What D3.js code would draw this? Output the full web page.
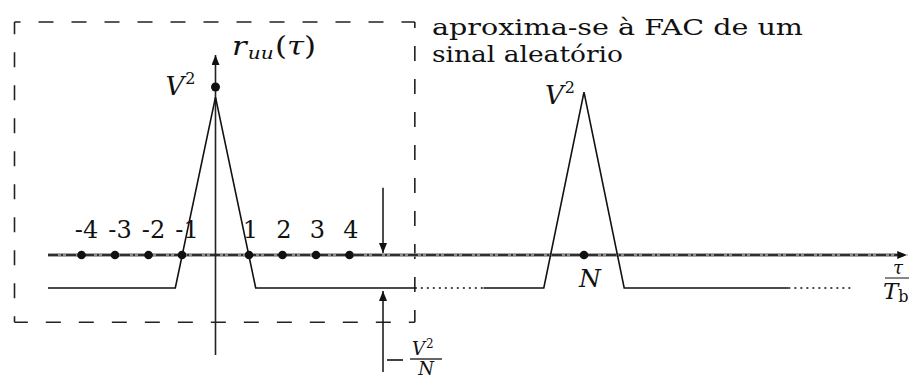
<!DOCTYPE html>
<html>
<head>
<meta charset="utf-8">
<script src="https://cdn.jsdelivr.net/npm/d3@7"></script>
<style>
  html, body { margin: 0; padding: 0; background: #fff; }
  svg { display: block; }
  svg text { font-family: "DejaVu Serif", "Liberation Serif", serif; }
  .it { font-style: italic; }
</style>
</head>
<body>
<svg id="chart" width="909" height="381" fill="#111"></svg>
<script>
// Autocorrelation of a periodic pseudo-random binary sequence (period N)
const N = 11;                       // period, in bit intervals
const tickValues = [-4, -3, -2, -1, 1, 2, 3, 4];
const tickLabels = ["-4", "-3", "-2", "-1", "1", "2", "3", "4"];
const peakValue = 1;                // V^2 marker on the vertical axis
const peakLeft = 0.94;              // apex of the triangle at tau = 0
const peakRight = 0.97;             // apex of the triangle at tau = N
const floorLevel = -0.196;          // -V^2/N
const halfBase = 1.2;               // half width of each triangle at the floor

// pieces of r_uu(tau), as [tau, value] points
const curveSolidA = [[-5, floorLevel], [-halfBase, floorLevel], [0, peakLeft], [halfBase, floorLevel], [5.95, floorLevel]];
const curveDottedA = [[5.95, floorLevel], [8, floorLevel]];
const curveSolidB = [[8, floorLevel], [N - halfBase, floorLevel], [N, peakRight], [N + halfBase, floorLevel], [17.1, floorLevel]];
const curveDottedB = [[17.1, floorLevel], [19, floorLevel]];

const svg = d3.select("#chart");
const x = d3.scaleLinear().domain([0, N]).range([215.5, 584]);
const y = d3.scaleLinear().domain([0, 1]).range([255, 87]);
const line = d3.line().x(d => x(d[0])).y(d => y(d[1]));

const ink = "#111";

// dashed frame around the region near tau = 0
const box = { x0: -6.0, x1: 5.95, y0: 1.387, y1: -0.4 };
const frame = svg.append("g").attr("stroke", "#222").attr("stroke-width", 1.6).attr("fill", "none");
[[box.x0, box.y0, box.x1, box.y0], [box.x1, box.y0, box.x1, box.y1],
 [box.x1, box.y1, box.x0, box.y1], [box.x0, box.y1, box.x0, box.y0]].forEach(s => {
  frame.append("line")
    .attr("x1", x(s[0])).attr("y1", y(s[1]))
    .attr("x2", x(s[2])).attr("y2", y(s[3]))
    .attr("stroke-dasharray", "15,18")
    .attr("stroke-dashoffset", 9);
});

// arrow heads
const defs = svg.append("defs");
defs.append("marker")
  .attr("id", "head")
  .attr("viewBox", "0 0 10 8")
  .attr("refX", 10).attr("refY", 4)
  .attr("markerWidth", 10).attr("markerHeight", 8)
  .attr("markerUnits", "userSpaceOnUse")
  .attr("orient", "auto")
  .append("path").attr("d", "M0,0 L10,4 L0,8 Z").attr("fill", ink);

// horizontal axis (tau / T_b)
const xAxisEnd = 20.65;
svg.append("line")
  .attr("x1", x(-5)).attr("x2", x(xAxisEnd) - 4).attr("y1", y(0)).attr("y2", y(0))
  .attr("stroke", "#8d8d8d").attr("stroke-width", 3.5);
svg.append("line")
  .attr("x1", x(-5)).attr("x2", x(xAxisEnd)).attr("y1", y(0)).attr("y2", y(0))
  .attr("stroke", ink).attr("stroke-width", 1.4)
  .attr("stroke-dasharray", "10,3,2,3")
  .attr("marker-end", "url(#head)");

// vertical axis r_uu(tau)
svg.append("line")
  .attr("x1", x(0)).attr("x2", x(0)).attr("y1", y(-0.595)).attr("y2", y(1.19))
  .attr("stroke", "#222").attr("stroke-width", 1.6)
  .attr("marker-end", "url(#head)");

// the autocorrelation curve
[curveSolidA, curveSolidB].forEach(seg => {
  svg.append("path").datum(seg).attr("d", line)
    .attr("fill", "none").attr("stroke", ink).attr("stroke-width", 1.6);
});
[curveDottedA, curveDottedB].forEach(seg => {
  svg.append("path").datum(seg).attr("d", line)
    .attr("fill", "none").attr("stroke", ink).attr("stroke-width", 1.5)
    .attr("stroke-dasharray", "2,4");
});

// sample points on the axis
svg.append("g").selectAll("circle")
  .data(tickValues.concat([N]))
  .join("circle")
  .attr("cx", d => x(d)).attr("cy", y(0)).attr("r", 4.3).attr("fill", ink);
svg.append("circle").attr("cx", x(0)).attr("cy", y(peakValue)).attr("r", 4.5).attr("fill", ink);

// tick labels
svg.append("g").selectAll("text")
  .data(tickValues)
  .join("text")
  .attr("x", d => x(d) + (d < 0 ? 5 : 1.5))
  .attr("y", 238)
  .attr("text-anchor", "middle")
  .attr("font-size", 24)
  .text((d, i) => tickLabels[i]);

// N under the second peak
svg.append("text").attr("class", "it")
  .attr("x", x(N) - 5).attr("y", 287).attr("font-size", 25).text("N");

// V^2 labels
function vSquared(px, py) {
  const t = svg.append("text").attr("x", px).attr("y", py).attr("font-size", 26);
  t.append("tspan").attr("class", "it").text("V");
  t.append("tspan").attr("font-size", 16).attr("dy", -11).attr("dx", 1).text("2");
}
vSquared(x(0) - 50, y(peakValue) + 8);
vSquared(x(N) - 39, y(peakRight) + 12);

// axis title r_uu(tau)
const rt = svg.append("text").attr("x", 232).attr("y", 55).attr("font-size", 26)
  .attr("textLength", 84).attr("lengthAdjust", "spacingAndGlyphs");
rt.append("tspan").attr("class", "it").text("r");
rt.append("tspan").attr("class", "it").attr("font-size", 17).attr("dy", 4).attr("dx", 1).text("uu");
rt.append("tspan").attr("dy", -4).attr("dx", 1).text("(");
rt.append("tspan").attr("class", "it").text("τ");
rt.append("tspan").text(")");

// horizontal axis label tau / T_b
const axLab = svg.append("g");
axLab.append("text").attr("class", "it").attr("x", 898).attr("y", 274)
  .attr("text-anchor", "middle").attr("font-size", 18).text("τ");
axLab.append("line").attr("x1", 885).attr("x2", 912).attr("y1", 278).attr("y2", 278)
  .attr("stroke", ink).attr("stroke-width", 1);
const tb = axLab.append("text").attr("x", 883).attr("y", 299).attr("font-size", 23);
tb.append("tspan").attr("class", "it").text("T");
tb.append("tspan").attr("font-size", 16).attr("dy", 3).text("b");

// marker arrows for the -V^2/N level
const markTau = 5;
svg.append("line")
  .attr("x1", x(markTau)).attr("x2", x(markTau)).attr("y1", y(0.4)).attr("y2", y(0) - 2)
  .attr("stroke", ink).attr("stroke-width", 1.5).attr("marker-end", "url(#head)");
svg.append("line")
  .attr("x1", x(markTau)).attr("x2", x(markTau)).attr("y1", y(-0.696)).attr("y2", y(floorLevel) + 3)
  .attr("stroke", ink).attr("stroke-width", 1.5).attr("marker-end", "url(#head)");

// -V^2/N label
const fx = x(markTau);
const fy = 359;
svg.append("line").attr("x1", fx + 4).attr("x2", fx + 20).attr("y1", fy + 1).attr("y2", fy + 1)
  .attr("stroke", ink).attr("stroke-width", 1.6);
svg.append("line").attr("x1", fx + 27).attr("x2", fx + 59).attr("y1", fy).attr("y2", fy)
  .attr("stroke", ink).attr("stroke-width", 1.3);
const num = svg.append("text").attr("x", fx + 29).attr("y", fy - 4).attr("font-size", 18);
num.append("tspan").attr("class", "it").text("V");
num.append("tspan").attr("font-size", 12).attr("dy", -7).attr("dx", 1).text("2");
svg.append("text").attr("class", "it").attr("x", fx + 43).attr("y", fy + 16)
  .attr("text-anchor", "middle").attr("font-size", 18).text("N");

// annotation
svg.append("text").attr("x", 432).attr("y", 35).attr("font-size", 23)
  .attr("textLength", 371).attr("lengthAdjust", "spacingAndGlyphs")
  .text("aproxima-se à FAC de um");
svg.append("text").attr("x", 432).attr("y", 62).attr("font-size", 23)
  .attr("textLength", 191).attr("lengthAdjust", "spacingAndGlyphs")
  .text("sinal aleatório");
</script>
</body>
</html>
